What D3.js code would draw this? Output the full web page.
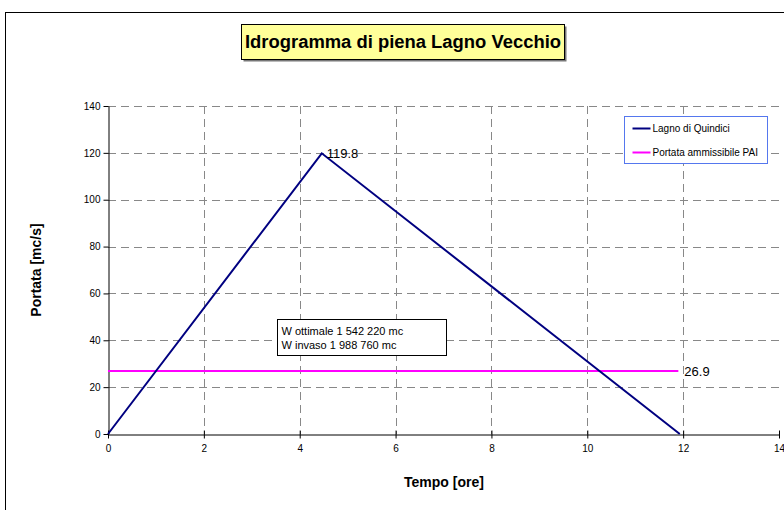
<!DOCTYPE html>
<html>
<head>
<meta charset="utf-8">
<script src="https://cdn.jsdelivr.net/npm/d3@7"></script>
<style>
  body { margin: 0; background: #fff; }
  text { font-family: Arial, "Liberation Sans", sans-serif; }
</style>
</head>
<body>
<div id="chart"></div>
<script>
const [width, height] = [784, 510];

// data
const tempo = [0, 4.46, 11.93];
const portata = [0, 119.8, 0];
const pai_x = [0, 11.9];
const pai_y = [26.9, 26.9];
const x_ticks = [0, 2, 4, 6, 8, 10, 12, 14];
const y_ticks = [0, 20, 40, 60, 80, 100, 120, 140];
const series_names = ["Lagno di Quindici", "Portata ammissibile PAI"];
const note_lines = ["W ottimale 1 542 220 mc", "W invaso 1 988 760 mc"];

const margin = {top: 106, left: 108};
const plot_w = 779 - 108, plot_h = 434 - 106;

const svg = d3.select("#chart")
    .append("svg")
    .attr("width", width)
    .attr("height", height);

// outer frame
svg.append("rect")
    .attr("x", 5.5).attr("y", 12.5)
    .attr("width", 820).attr("height", 540)
    .attr("fill", "#fff")
    .attr("stroke", "#000").attr("stroke-width", 1);

// title box
svg.append("rect")
    .attr("x", 243.5).attr("y", 26.5)
    .attr("width", 323).attr("height", 35)
    .attr("fill", "#777");
svg.append("rect")
    .attr("x", 241.5).attr("y", 24.5)
    .attr("width", 323).attr("height", 35)
    .attr("fill", "#ffff99")
    .attr("stroke", "#000").attr("stroke-width", 1);
svg.append("text")
    .attr("x", 403).attr("y", 48)
    .attr("text-anchor", "middle")
    .attr("font-size", 18).attr("font-weight", "bold")
    .attr("textLength", 316).attr("lengthAdjust", "spacingAndGlyphs")
    .text("Idrogramma di piena Lagno Vecchio");

const g = svg.append("g")
    .attr("transform", `translate(${margin.left}, ${margin.top})`);

const x = d3.scaleLinear().domain([0, 14]).range([0, plot_w]);
const y = d3.scaleLinear().domain([0, 140]).range([plot_h, 0]);

// grid
g.selectAll(".vgrid")
    .data(x_ticks.filter(d => d > 0 && d < 14))
    .enter().append("line")
    .attr("x1", d => Math.round(x(d)) + 0.5).attr("x2", d => Math.round(x(d)) + 0.5)
    .attr("y1", 0).attr("y2", plot_h)
    .attr("stroke", "#888").attr("stroke-dasharray", "8,5");
g.selectAll(".hgrid")
    .data(y_ticks.filter(d => d > 0))
    .enter().append("line")
    .attr("x1", 0).attr("x2", plot_w)
    .attr("y1", d => Math.round(y(d)) + 0.5).attr("y2", d => Math.round(y(d)) + 0.5)
    .attr("stroke", "#888").attr("stroke-dasharray", "8,5");

// axes
const x_axis = d3.axisBottom(x).tickValues(x_ticks).tickSize(4).tickSizeOuter(0);
const y_axis = d3.axisLeft(y).tickValues(y_ticks).tickSize(5).tickSizeOuter(0);

const gx = g.append("g")
    .attr("transform", `translate(0, ${plot_h + 0.5})`)
    .call(x_axis);
gx.selectAll(".tick line").attr("y1", -4).attr("y2", 4);
gx.selectAll("text").attr("font-size", 10).attr("y", 10).attr("fill", "#000");

const gy = g.append("g")
    .attr("transform", "translate(0.5, 0)")
    .call(y_axis);
gy.selectAll("text").attr("font-size", 10).attr("x", -8).attr("fill", "#000");
g.selectAll(".domain").attr("stroke", "#000");

// pai line
const pai = pai_x.map((d, i) => ({x: d, y: pai_y[i]}));
const line = d3.line().x(d => x(d.x)).y(d => y(d.y));
g.append("path")
    .datum(pai)
    .attr("d", line)
    .attr("fill", "none").attr("stroke", "#ff00ff").attr("stroke-width", 2);

// hydrograph
const hydro = tempo.map((d, i) => ({x: d, y: portata[i]}));
g.append("path")
    .datum(hydro)
    .attr("d", line)
    .attr("fill", "none").attr("stroke", "#000080").attr("stroke-width", 2);

// value labels
g.append("text")
    .attr("x", x(tempo[1]) + 5).attr("y", y(portata[1]) + 5)
    .attr("font-size", 13)
    .text(portata[1].toFixed(1));
g.append("text")
    .attr("x", x(pai_x[1]) + 6).attr("y", y(pai_y[1]) + 5)
    .attr("font-size", 13)
    .text(pai_y[1].toFixed(1));

// note box
const note = svg.append("g").attr("transform", "translate(277.5, 319.5)");
note.append("rect")
    .attr("width", 169).attr("height", 36)
    .attr("fill", "#fff").attr("stroke", "#000");
note.selectAll("text")
    .data(note_lines)
    .enter().append("text")
    .attr("x", 4).attr("y", (d, i) => 15 + i * 14)
    .attr("font-size", 11)
    .text(d => d);

// legend
const legend = svg.append("g").attr("transform", "translate(624.5, 116.5)");
legend.append("rect")
    .attr("width", 143).attr("height", 47)
    .attr("fill", "#fff").attr("stroke", "#5577ee");
const colors = ["#000080", "#ff00ff"];
series_names.forEach((name, i) => {
    legend.append("line")
        .attr("x1", 8).attr("x2", 26)
        .attr("y1", 12 + i * 24).attr("y2", 12 + i * 24)
        .attr("stroke", colors[i]).attr("stroke-width", 2);
    legend.append("text")
        .attr("x", 28).attr("y", 15.5 + i * 24)
        .attr("font-size", 10)
        .text(name);
});

// axis titles
svg.append("text")
    .attr("x", 444).attr("y", 487)
    .attr("text-anchor", "middle")
    .attr("font-size", 14).attr("font-weight", "bold")
    .text("Tempo [ore]");
svg.append("text")
    .attr("transform", "translate(41, 270) rotate(-90)")
    .attr("text-anchor", "middle")
    .attr("font-size", 14).attr("font-weight", "bold")
    .text("Portata [mc/s]");
</script>
</body>
</html>
